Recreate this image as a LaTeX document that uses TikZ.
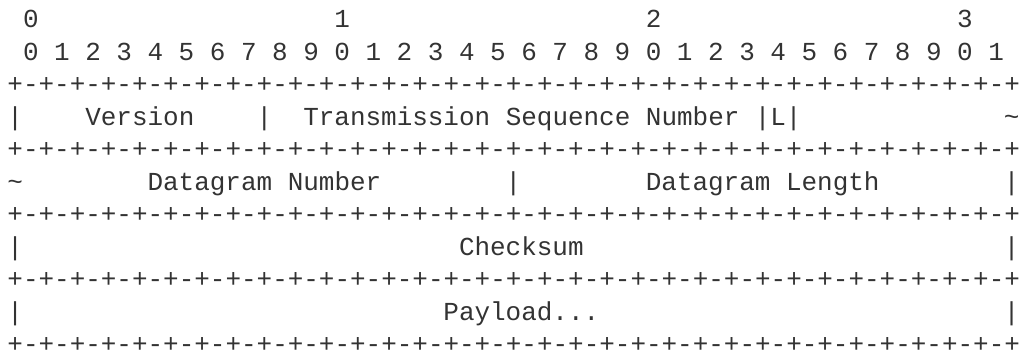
\documentclass[tikz,border=0pt]{standalone}
\usepackage{fontspec}
\setmonofont{Liberation Mono}
\usepackage{tikz}
\definecolor{ink}{RGB}{51,51,51}
\newcommand{\rulerow}{+-+-+-+-+-+-+-+-+-+-+-+-+-+-+-+-+-+-+-+-+-+-+-+-+-+-+-+-+-+-+-+-+}

\begin{document}
\begin{tikzpicture}[x=0.75pt,y=0.75pt,yscale=-1,xscale=1,
  asc/.style={anchor=base west,inner sep=0pt,text depth=0pt,text=ink,font=\ttfamily\fontsize{19.47}{24}\selectfont}]
%set diagram left start at 0, and has height of 352
\useasboundingbox (0,0) rectangle (1025,352);

% bit numbers, tens
\foreach \t in {0,...,3}
  \node [asc] (tens\t) at ({7.2+15.57*(20*\t+1)},28) {\t};
% bit numbers, units
\foreach \b in {0,...,31}{
  \pgfmathtruncatemacro{\u}{mod(\b,10)}
  \node [asc] (bit\b) at ({7.2+15.57*(2*\b+1)},60.5) {\u};
}

% Rulers
\node [asc] (rule0) at (7.2,93) {\rulerow};
\node [asc] (rule1) at (7.2,158) {\rulerow};
\node [asc] (rule2) at (7.2,223) {\rulerow};
\node [asc] (rule3) at (7.2,288) {\rulerow};
\node [asc] (rule4) at (7.2,352.5) {\rulerow};

% Text Node
\node [asc] (barA) at (7.2,125.5) {|};
\node [asc] (version) at (85.05,125.5) {Version};
\node [asc] (barB) at (256.32,125.5) {|};
\node [asc] (tsn) at (303.03,125.5) {Transmission Sequence Number};
\node [asc] (lflag) at (754.56,125.5) {|L|};
\node [asc] (tildeA) at (1003.68,125.5) {\textasciitilde};
% Text Node
\node [asc] (tildeB) at (7.2,190.5) {\textasciitilde};
\node [asc] (dgnum) at (147.33,190.5) {Datagram Number};
\node [asc] (barC) at (505.44,190.5) {|};
\node [asc] (dglen) at (645.57,190.5) {Datagram Length};
\node [asc] (barD) at (1003.68,190.5) {|};
% Text Node
\node [asc] (barE) at (7.2,255.5) {|};
\node [asc] (csum) at (458.73,255.5) {Checksum};
\node [asc] (barF) at (1003.68,255.5) {|};
% Text Node
\node [asc] (barG) at (7.2,320.5) {|};
\node [asc] (payload) at (443.16,320.5) {Payload...};
\node [asc] (barH) at (1003.68,320.5) {|};

\end{tikzpicture}
\end{document}
